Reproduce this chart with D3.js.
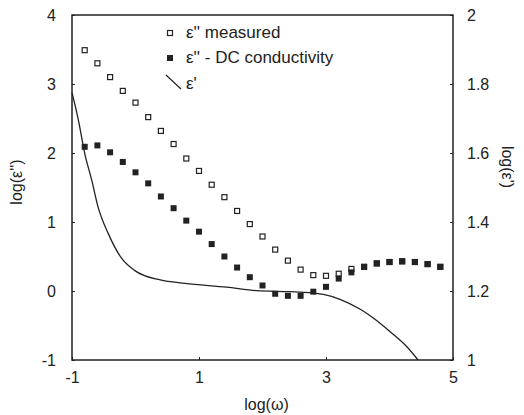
<!DOCTYPE html>
<html>
<head>
<meta charset="utf-8">
<script src="https://cdn.jsdelivr.net/npm/d3@7"></script>
<style>
  body { margin: 0; background: #fff; }
  svg text { font-family: "Liberation Sans", Arial, sans-serif; fill: #222; }
</style>
</head>
<body>
<svg id="chart"></svg>
<script>
const width = 524;
const height = 415;
const margin = { top: 15, right: 71, bottom: 55, left: 72 };

// log(omega) for the square markers
const logW = [-0.8, -0.6, -0.4, -0.2, 0, 0.2, 0.4, 0.6, 0.8, 1, 1.2, 1.4, 1.6, 1.8, 2,
  2.2, 2.4, 2.6, 2.8, 3, 3.2, 3.4, 3.6, 3.8, 4, 4.2, 4.4, 4.6, 4.8];
// log(eps'') measured (open squares)
const measured = [3.49, 3.30, 3.10, 2.90, 2.73, 2.52, 2.32, 2.13, 1.92, 1.74, 1.54, 1.36, 1.16, 0.97, 0.79,
  0.60, 0.44, 0.31, 0.23, 0.22, 0.25, 0.32, 0.35, 0.40, 0.42, 0.43, 0.42, 0.39, 0.35];
// log(eps'') minus DC conductivity (filled squares)
const corrected = [2.09, 2.11, 2.01, 1.87, 1.72, 1.56, 1.37, 1.20, 1.02, 0.86, 0.68, 0.50, 0.34, 0.20, 0.08,
  -0.04, -0.07, -0.07, -0.01, 0.06, 0.18, 0.27, 0.35, 0.40, 0.42, 0.43, 0.42, 0.39, 0.35];
// log(eps') curve, right axis
const epsX = [-1, -0.9, -0.8, -0.69, -0.59, -0.43, -0.22, -0.01, 0.39, 0.78, 1.44, 1.91, 2.43, 2.75,
  2.96, 3.22, 3.54, 3.75, 4.01, 4.27, 4.45];
const epsY = [1.775, 1.696, 1.599, 1.522, 1.444, 1.367, 1.295, 1.259, 1.232, 1.222, 1.211, 1.201, 1.198,
  1.195, 1.190, 1.176, 1.147, 1.121, 1.082, 1.039, 1.0];

const xTicks = [-1, 1, 3, 5];
const yTicks = [-1, 0, 1, 2, 3, 4];
const y2Ticks = [1, 1.2, 1.4, 1.6, 1.8, 2];

const ink = "#222";

const svg = d3.select("#chart")
  .attr("width", width)
  .attr("height", height)
  .attr("viewBox", [0, 0, width, height]);

const x = d3.scaleLinear().domain([-1, 5]).range([margin.left, width - margin.right]);
const y = d3.scaleLinear().domain([-1, 4]).range([height - margin.bottom, margin.top]);
const y2 = d3.scaleLinear().domain([1, 2]).range([height - margin.bottom, margin.top]);

// plain hyphen minus like the original
const fmt = d => String(d);

// axes with small inward ticks
const xAxis = svg.append("g")
  .attr("transform", `translate(0,${height - margin.bottom})`)
  .call(d3.axisBottom(x).tickValues(xTicks).tickSize(-3).tickPadding(12).tickFormat(fmt));

const yAxis = svg.append("g")
  .attr("transform", `translate(${margin.left},0)`)
  .call(d3.axisLeft(y).tickValues(yTicks).tickSize(-3).tickPadding(16).tickFormat(fmt));

const y2Axis = svg.append("g")
  .attr("transform", `translate(${width - margin.right},0)`)
  .call(d3.axisRight(y2).tickValues(y2Ticks).tickSize(-3).tickPadding(14).tickFormat(fmt));

[xAxis, yAxis, y2Axis].forEach(g => {
  g.select(".domain").remove();
  g.selectAll("line").attr("stroke", ink).attr("stroke-width", 1);
  g.selectAll("text")
    .style("font-family", "'Liberation Sans', Arial, sans-serif")
    .style("font-size", "16px")
    .attr("fill", ink);
});

// frame
svg.append("rect")
  .attr("x", margin.left)
  .attr("y", margin.top)
  .attr("width", width - margin.left - margin.right)
  .attr("height", height - margin.top - margin.bottom)
  .attr("fill", "none")
  .attr("stroke", ink)
  .attr("stroke-width", 1.5);

// eps' line
const line = d3.line()
  .x((d, i) => x(epsX[i]))
  .y(d => y2(d))
  .curve(d3.curveMonotoneX);

svg.append("path")
  .attr("d", line(epsY))
  .attr("fill", "none")
  .attr("stroke", ink)
  .attr("stroke-width", 1.3);

// markers
const sz = 5;
svg.append("g").selectAll("rect")
  .data(measured)
  .join("rect")
  .attr("x", (d, i) => x(logW[i]) - sz / 2)
  .attr("y", d => y(d) - sz / 2)
  .attr("width", sz)
  .attr("height", sz)
  .attr("fill", "#fff")
  .attr("stroke", ink)
  .attr("stroke-width", 1.2);

svg.append("g").selectAll("rect")
  .data(corrected)
  .join("rect")
  .attr("x", (d, i) => x(logW[i]) - (sz + 1) / 2)
  .attr("y", d => y(d) - (sz + 1) / 2)
  .attr("width", sz + 1)
  .attr("height", sz + 1)
  .attr("fill", ink);

// legend
const legend = svg.append("g").style("font-size", "17px");
legend.append("rect").attr("x", 167.5).attr("y", 30.5).attr("width", 5).attr("height", 5)
  .attr("fill", "#fff").attr("stroke", ink).attr("stroke-width", 1.2);
legend.append("text").attr("x", 186).attr("y", 38).text("ε'' measured");
legend.append("rect").attr("x", 167).attr("y", 55).attr("width", 6).attr("height", 6).attr("fill", ink);
legend.append("text").attr("x", 186).attr("y", 63).text("ε'' - DC conductivity");
legend.append("line").attr("x1", 166).attr("y1", 75).attr("x2", 181).attr("y2", 89)
  .attr("stroke", ink).attr("stroke-width", 1.2);
legend.append("text").attr("x", 186).attr("y", 89).text("ε'");

// axis titles
svg.append("text")
  .attr("x", (margin.left + width - margin.right) / 2 + 4)
  .attr("y", 410)
  .attr("text-anchor", "middle")
  .style("font-size", "16px")
  .text("log(ω)");

svg.append("text")
  .attr("transform", `translate(22,182) rotate(-90)`)
  .attr("text-anchor", "middle")
  .style("font-size", "16px")
  .text("log(ε'')");

svg.append("text")
  .attr("transform", `translate(502,167) rotate(90)`)
  .attr("text-anchor", "middle")
  .style("font-size", "16px")
  .text("log(ε')");
</script>
</body>
</html>
